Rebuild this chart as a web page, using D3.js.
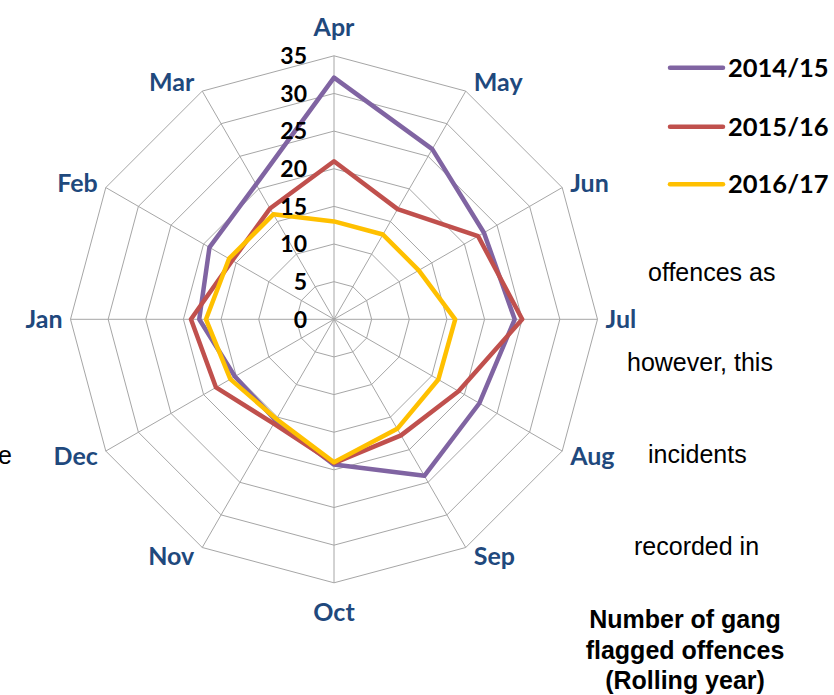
<!DOCTYPE html>
<html><head><meta charset="utf-8">
<script src="https://cdn.jsdelivr.net/npm/d3@7"></script>
<style>body{margin:0;background:#fff;overflow:hidden} svg{display:block}</style>
</head><body><svg id="c" width="834" height="695"></svg>
<script>
const months = ["Apr","May","Jun","Jul","Aug","Sep","Oct","Nov","Dec","Jan","Feb","Mar"];
const seriesNames = ["2014/15","2015/16","2016/17"];
const values1415 = [32.1,26.1,23.0,24.0,22.3,24.0,19.3,15.5,15.2,17.9,19.1,20.7];
const values1516 = [21.0,16.9,22.1,25.0,19.1,17.8,19.1,16.0,18.1,19.0,15.6,17.0];
const values1617 = [13.0,13.0,13.0,16.1,16.0,16.8,19.0,15.3,15.9,17.0,16.1,16.1];
const tickValues = [0,5,10,15,20,25,30,35];
const seriesColors = ["#8064A2","#C0504D","#FFC000"];
const sideTexts = ["offences as","however, this","incidents","recorded in"];
const leftFragment = "e";
const titleLines = ["Number of gang","flagged offences","(Rolling year)"];

const series = seriesNames.map((n,i)=>({name:n, values:[values1415,values1516,values1617][i], color:seriesColors[i]}));

const svg = d3.select("#c");
const cx = 334, cy = 319.3, R = 263.5;
const r = d3.scaleLinear().domain([0,35]).range([0,R]);
const ang = d3.scaleLinear().domain([0,months.length]).range([0,2*Math.PI]);
const grid = "#A6A6A6";

const g = svg.append("g").attr("transform",`translate(${cx},${cy})`);

// rings
tickValues.slice(1).forEach(t=>{
  g.append("path")
    .attr("d", d3.lineRadial().angle((d,i)=>ang(i)).radius(()=>r(t)).curve(d3.curveLinearClosed)(months))
    .attr("fill","none").attr("stroke",grid).attr("stroke-width",1);
});
// spokes
months.forEach((m,i)=>{
  const a = ang(i);
  g.append("line").attr("x1",0).attr("y1",0)
    .attr("x2",r(35)*Math.sin(a)).attr("y2",-r(35)*Math.cos(a))
    .attr("stroke",grid).attr("stroke-width",1);
});

// series
series.forEach(s=>{
  g.append("path")
    .attr("d", d3.lineRadial().angle((d,i)=>ang(i)).radius(d=>r(d)).curve(d3.curveLinearClosed)(s.values))
    .attr("fill","none").attr("stroke",s.color).attr("stroke-width",4.5).attr("stroke-linejoin","round");
});

// tick labels
g.selectAll("text.tick").data(tickValues).join("text")
  .attr("x",-27).attr("y",d=>-r(d)).attr("dy","0.36em")
  .attr("text-anchor","end").attr("font-family","Lato").attr("font-weight","bold")
  .attr("font-size",23).attr("fill","#000").text(d=>d);

// month labels
months.forEach((m,i)=>{
  const a = ang(i), s = Math.sin(a), c = Math.cos(a);
  const x0 = r(35)*s, y0 = -r(35)*c;
  let x, y, anchor;
  if (Math.abs(s) < 0.01) { x = x0; y = y0 - 29*c; anchor = "middle"; }
  else { x = x0 + 8*Math.sign(s); y = y0 - 10*c; anchor = s > 0 ? "start" : "end"; }
  g.append("text").attr("x",x).attr("y",y).attr("dy","0.36em")
    .attr("text-anchor",anchor).attr("font-family","Lato").attr("font-weight","bold")
    .attr("font-size",25).attr("fill","#1F497D").text(m);
});

// legend
const legendY = [67.7,126.7,184.3];
series.forEach((s,i)=>{
  svg.append("line").attr("x1",670).attr("x2",723).attr("y1",legendY[i]).attr("y2",legendY[i])
    .attr("stroke",s.color).attr("stroke-width",4.5).attr("stroke-linecap","round");
  svg.append("text").attr("x",728).attr("y",legendY[i]).attr("dy","0.36em")
    .attr("font-family","Lato").attr("font-weight","bold").attr("font-size",25.5)
    .attr("fill","#000").text(s.name);
});

// background text fragments
const sideX = [648,627,648,634], sideY = [280.5,370.7,462.7,555];
sideTexts.forEach((t,i)=>{
  svg.append("text").attr("x",sideX[i]).attr("y",sideY[i])
    .attr("font-family","Liberation Sans, Arial").attr("font-size",25).attr("fill","#000").text(t);
});
svg.append("text").attr("x",12).attr("y",464).attr("text-anchor","end")
  .attr("font-family","Liberation Sans, Arial").attr("font-size",25).attr("fill","#000").text(leftFragment);

const titleY = [628,658.5,689];
titleLines.forEach((t,i)=>{
  svg.append("text").attr("x",685).attr("y",titleY[i]).attr("text-anchor","middle")
    .attr("font-family","Liberation Sans, Arial").attr("font-weight","bold").attr("font-size",25)
    .attr("fill","#000").text(t);
});
</script></body></html>
